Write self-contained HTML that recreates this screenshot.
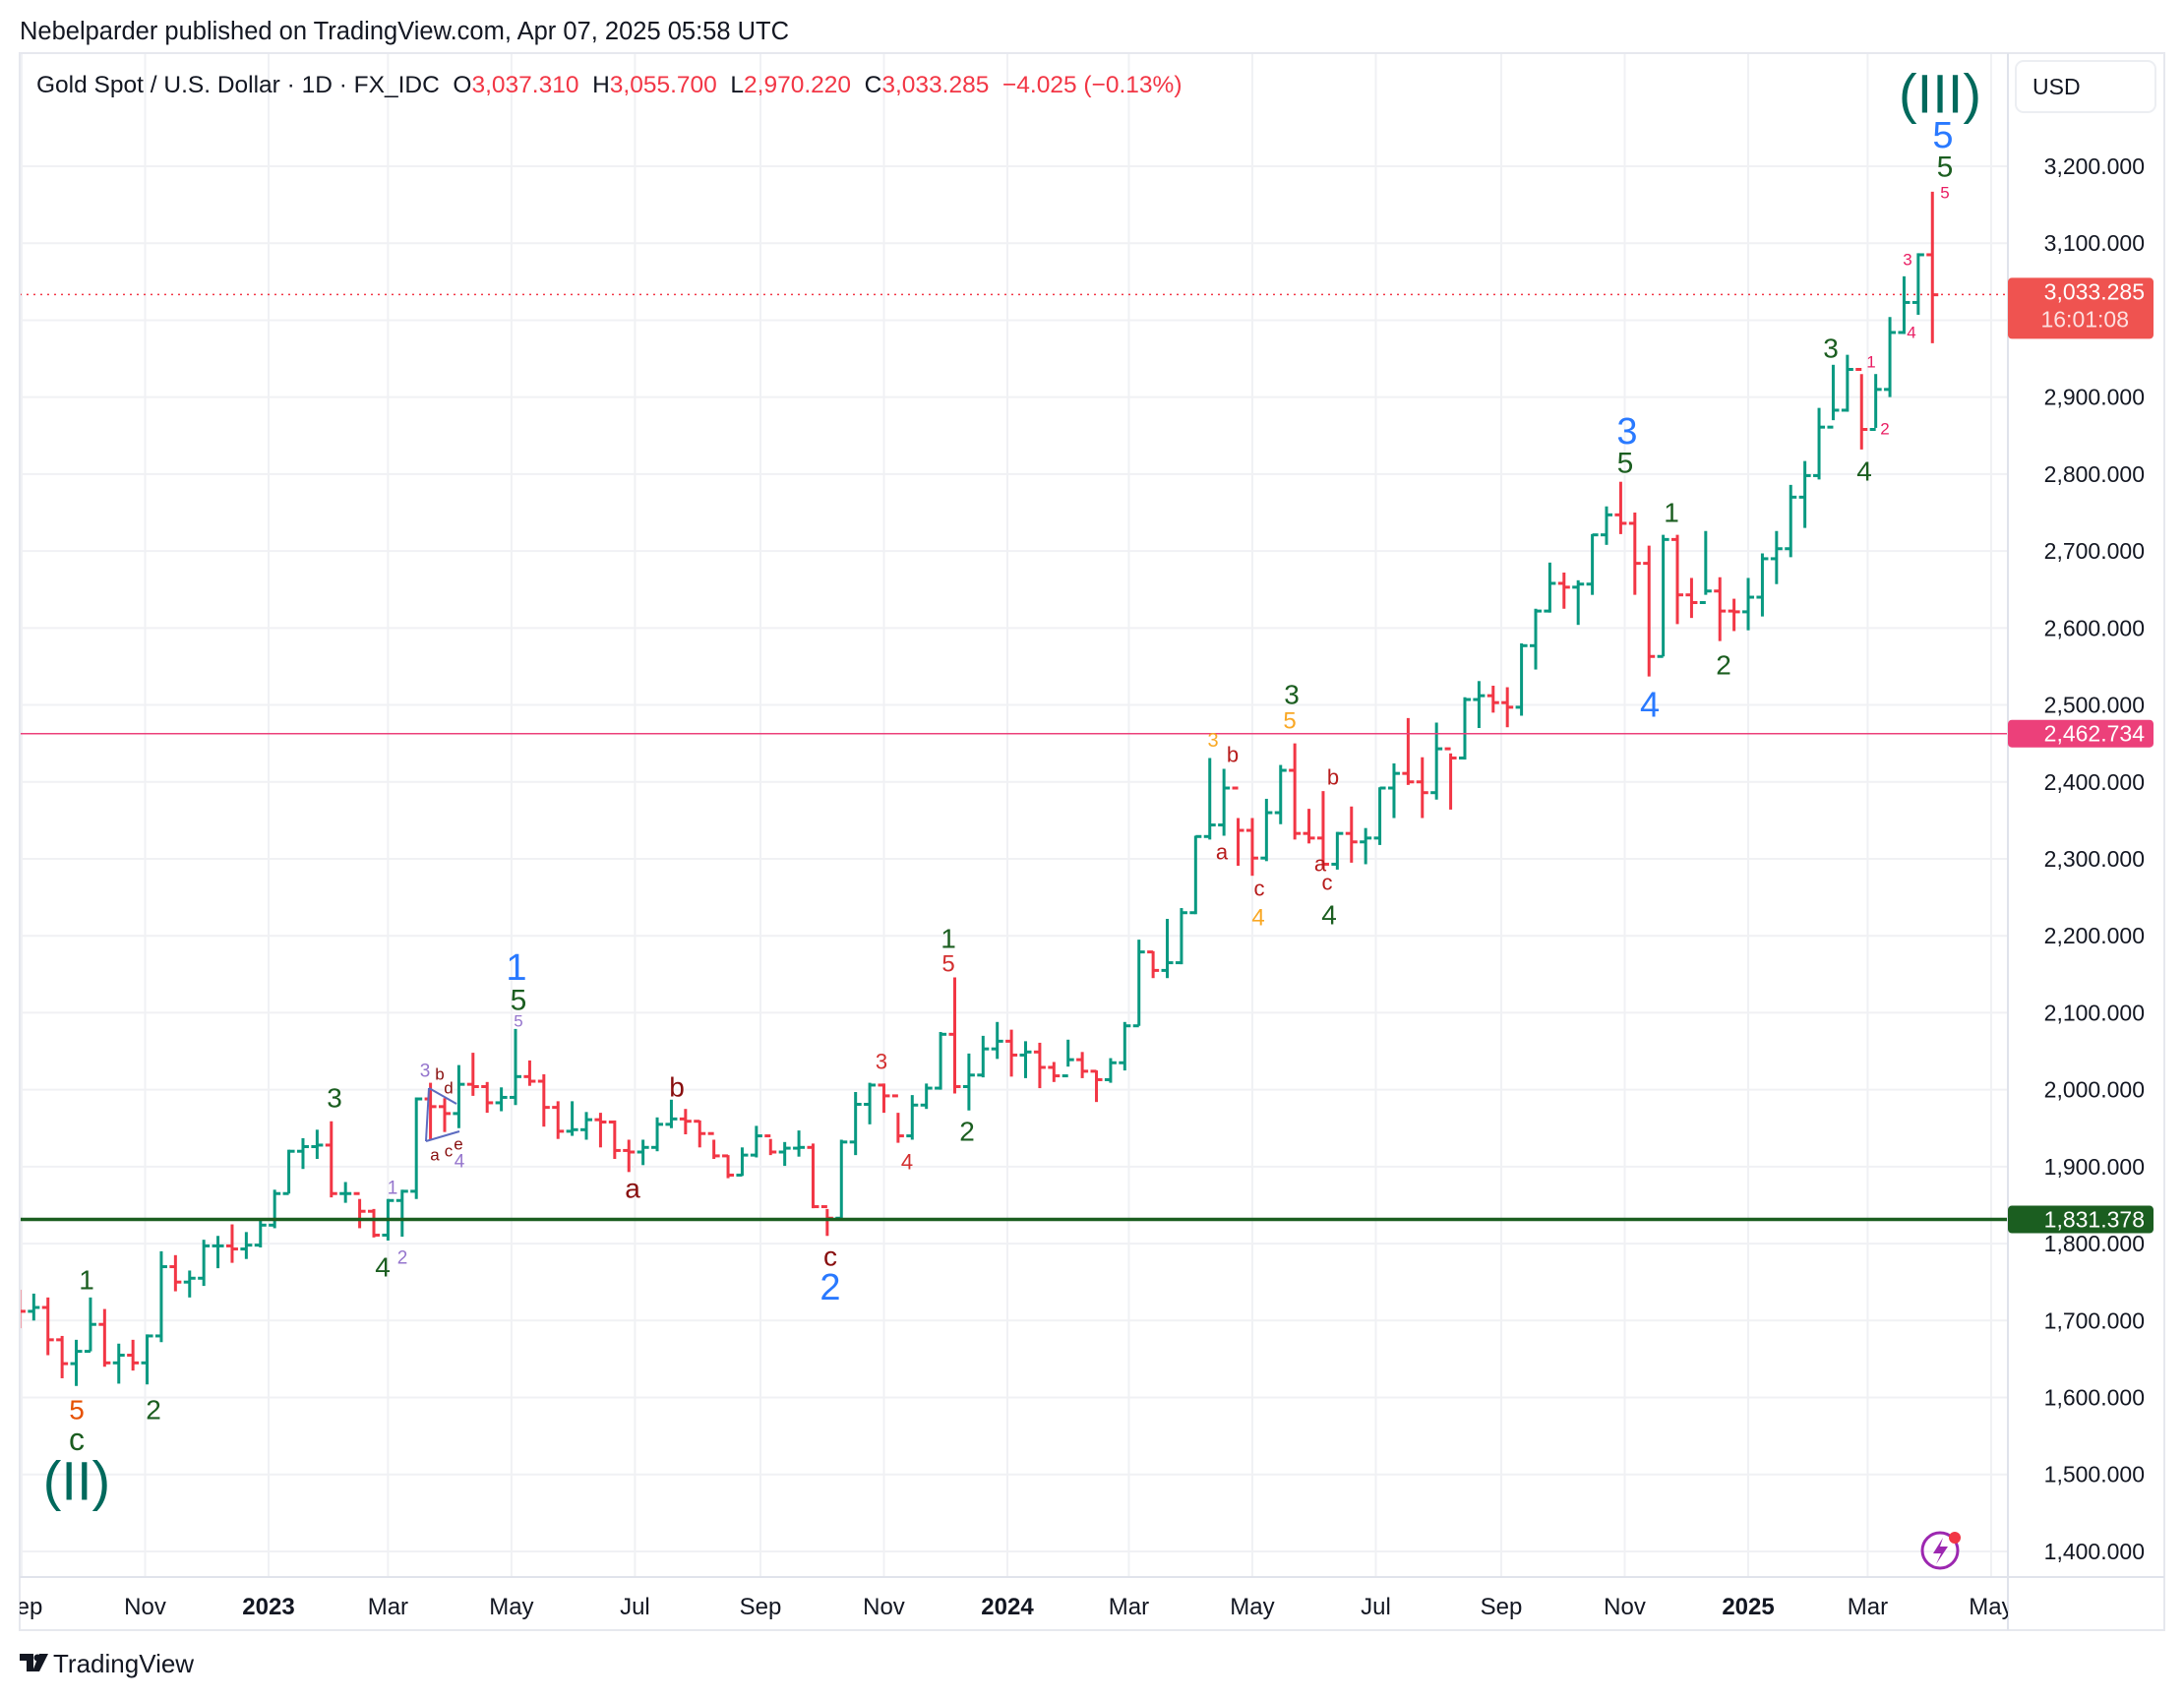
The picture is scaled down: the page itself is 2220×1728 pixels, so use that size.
<!DOCTYPE html>
<html><head><meta charset="utf-8">
<style>
html,body{margin:0;padding:0;background:#fff;width:2220px;height:1728px;overflow:hidden}
svg{display:block;font-family:"Liberation Sans",sans-serif}
</style></head>
<body>
<svg id="chart" width="2220" height="1728" viewBox="0 0 2220 1728" xmlns="http://www.w3.org/2000/svg">
  <defs><clipPath id="plotClip"><rect x="20" y="54" width="2021" height="1549"/></clipPath>
  <clipPath id="timeClip"><rect x="20" y="1603" width="2021" height="54"/></clipPath></defs>
  <text x="20" y="40" font-size="25.5" fill="#131722">Nebelparder published on TradingView.com, Apr 07, 2025 05:58 UTC</text>
  <g id="grid"></g>
  <g id="bars" clip-path="url(#plotClip)"></g>
  <g id="hlines"></g>
  <g id="ann"></g>
  <rect x="20" y="54" width="2180" height="1603" fill="none" stroke="#e6e8ee" stroke-width="2"/>
  <line x1="2041" y1="54" x2="2041" y2="1657" stroke="#e0e3eb" stroke-width="2"/>
  <line x1="20" y1="1603" x2="2200" y2="1603" stroke="#e0e3eb" stroke-width="2"/>
  <g id="yaxis"></g>
  <g id="xaxis" clip-path="url(#timeClip)"></g>
  <text x="37" y="94" font-size="24.5" fill="#131722" xml:space="preserve">Gold Spot / U.S. Dollar · 1D · FX_IDC  O<tspan fill="#f23645">3,037.310</tspan>  H<tspan fill="#f23645">3,055.700</tspan>  L<tspan fill="#f23645">2,970.220</tspan>  C<tspan fill="#f23645">3,033.285</tspan>  <tspan fill="#f23645">−4.025 (−0.13%)</tspan></text>
  <rect x="2049" y="62" width="142" height="52" rx="8" fill="#fff" stroke="#eceef2" stroke-width="2"/>
  <text x="2066" y="96" font-size="23" fill="#131722">USD</text>
  <g>
    <circle cx="1972" cy="1576" r="18" fill="none" stroke="#9c27b0" stroke-width="3"/>
    <path d="M1975 1563 L1965 1579 L1973 1579 L1968 1590 L1980 1572 L1972 1572 Z" fill="#9c27b0"/>
    <circle cx="1987" cy="1563" r="6" fill="#f23645"/>
  </g>
  <g>
    <path d="M20 1681 h14 v18 h-7 v-11 h-7 z M40 1681 h9 l-9 18 h-7 z" fill="#131722"/>
    <circle cx="38" cy="1685" r="3.5" fill="#131722"/>
    <text x="54" y="1700" font-size="26" fill="#131722">TradingView</text>
  </g>
</svg>
<script>
const weekCloses=[1712,1717,1675,1644,1660,1695,1645,1655,1645,1680,1770,1750,1755,1797,1797,1793,1798,1824,
1865,1920,1926,1928,1865,1865,1842,1811,1856,1868,1988,1978,1969,2007,2004,1983,1990,2017,2011,1977,1946,1948,1961,1958,1921,1919,1925,1955,1962,1959,1943,1914,1889,1915,1940,1919,1924,1925,1848,1833,1932,1981,2006,1992,1940,1980,2002,2072,2004,2019,2053,2063,
2045,2049,2029,2018,2039,2024,2013,2035,2083,2179,2155,2165,2230,2329,2344,2392,2337,2301,2360,2415,2333,2327,2293,2333,2322,2327,2392,2411,2400,2386,2443,2431,2507,2512,2503,2497,2577,2622,2658,2653,2657,2721,2747,2736,2684,2563,2715,2643,2633,2648,2622,2621,
2640,2690,2703,2770,2798,2861,2883,2936,2858,2910,2984,3023,3085,3033];
const weekHighs=[1740,1735,1730,1680,1675,1730,1715,1670,1675,1682,1790,1785,1765,1805,1810,1825,1815,1833,
1870,1922,1937,1948,1959,1880,1858,1845,1858,1870,1990,2009,1989,2032,2048,2010,2003,2079,2038,2020,1985,1985,1971,1970,1960,1935,1935,1964,1987,1975,1960,1935,1915,1925,1953,1936,1932,1947,1930,1845,1935,1997,2009,2008,1970,1993,2008,2075,2146,2047,2070,2088,
2078,2063,2061,2036,2065,2049,2025,2041,2088,2195,2180,2222,2236,2330,2431,2417,2353,2353,2378,2422,2450,2365,2388,2335,2368,2340,2393,2424,2483,2432,2477,2437,2510,2531,2525,2523,2580,2625,2685,2672,2662,2722,2758,2790,2750,2707,2721,2721,2665,2726,2666,2638,
2665,2697,2726,2786,2817,2886,2942,2955,2930,2930,3004,3057,3087,3167];
const weekLows=[1690,1700,1655,1625,1615,1660,1640,1618,1635,1617,1672,1738,1730,1745,1768,1775,1780,1795,
1820,1865,1897,1910,1860,1853,1820,1808,1804,1809,1858,1935,1945,1950,1992,1970,1972,1980,2005,1952,1936,1940,1935,1925,1910,1893,1902,1920,1950,1942,1925,1910,1885,1888,1912,1915,1901,1913,1846,1810,1830,1915,1955,1970,1931,1935,1975,2000,1995,1973,2016,2040,
2017,2015,2002,2010,2030,2015,1984,2009,2025,2083,2145,2145,2163,2228,2325,2330,2291,2278,2297,2345,2325,2320,2287,2286,2295,2293,2318,2353,2396,2353,2377,2364,2429,2470,2490,2471,2486,2546,2620,2625,2604,2643,2708,2722,2643,2537,2563,2605,2613,2643,2583,2596,
2597,2615,2657,2692,2730,2793,2870,2881,2832,2860,2900,2982,3007,2970];
const firstOpen=1725;
const priceTicks=[3200,3100,2900,2800,2700,2600,2500,2400,2300,2200,2100,2000,1900,1800,1700,1600,1500,1400];
const gridPrices=[3200,3100,3000,2900,2800,2700,2600,2500,2400,2300,2200,2100,2000,1900,1800,1700,1600,1500,1400];
const monthLabels=["Sep","Nov","2023","Mar","May","Jul","Sep","Nov","2024","Mar","May","Jul","Sep","Nov","2025","Mar","May"];
const monthDates=["2022-09-01","2022-11-01","2023-01-01","2023-03-01","2023-05-01","2023-07-01","2023-09-01","2023-11-01","2024-01-01","2024-03-01","2024-05-01","2024-07-01","2024-09-01","2024-11-01","2025-01-01","2025-03-01","2025-05-01"];
const refLines=[3033.285,2462.734,1831.378];

const NS="http://www.w3.org/2000/svg";
const DAY=86400000, REF=Date.UTC(2023,0,1), START=Date.UTC(2022,8,2);
function xOfTime(t){return 273+(t-REF)/DAY*2.0575;}
function yOf(p){return 169+(3200-p)*0.7822;}
function mk(tag,attrs,parent){const e=document.createElementNS(NS,tag);for(const k in attrs)e.setAttribute(k,attrs[k]);parent.appendChild(e);return e;}
const grid=document.getElementById('grid'),bars=document.getElementById('bars'),yax=document.getElementById('yaxis'),xax=document.getElementById('xaxis'),hl=document.getElementById('hlines'),ann=document.getElementById('ann');

gridPrices.forEach(p=>{const l=mk('line',{x1:20,x2:2041,y1:yOf(p),y2:yOf(p),stroke:'#f0f1f4','stroke-width':2},grid);

});
monthDates.forEach((d,i)=>{const x=xOfTime(Date.parse(d));
const l=mk('line',{x1:x,x2:x,y1:54,y2:1603,stroke:'#f0f1f4','stroke-width':2},grid);


const yr=/^\d{4}$/.test(monthLabels[i]);
const t=mk('text',{x:x,y:1641,'text-anchor':'middle','font-size':24,fill:'#131722','font-weight':yr?'bold':'normal'},xax);
t.textContent=monthLabels[i];

});
priceTicks.forEach(p=>{const t=mk('text',{x:2180,y:yOf(p)+8,'text-anchor':'end','font-size':23,fill:'#131722'},yax);
t.textContent=p.toLocaleString('en-US',{minimumFractionDigits:3});

});

let prev=firstOpen;
weekCloses.forEach((c,i)=>{const o=prev;prev=c;const x=xOfTime(START+(i*7-2)*DAY);
const col=c>=o?'#089981':'#f23645';
const g=mk('g',{stroke:col,'stroke-width':3},bars);


mk('line',{x1:x,x2:x,y1:yOf(weekHighs[i]),y2:yOf(weekLows[i])},g);
mk('line',{x1:x-6,x2:x,y1:yOf(o),y2:yOf(o)},g);
mk('line',{x1:x,x2:x+6,y1:yOf(c),y2:yOf(c)},g);});

const lc=['#f23645','#ec407a','#1b5e20'];
refLines.forEach((p,i)=>{const y=yOf(p);
const l=mk('line',{x1:20,x2:2041,y1:y,y2:y,stroke:lc[i],'stroke-width':i==2?3.5:1.5},hl);
if(i==0)l.setAttribute('stroke-dasharray','2 5');


const h=i==0?62:28, top=i==0?y-17:y-14;
const r=mk('rect',{x:2041,y:top,width:148,height:h,rx:4,fill:i==0?'#ef5350':lc[i]},yax);


const t=mk('text',{x:2180,y:top+22,'text-anchor':'end','font-size':23,fill:'#fff'},yax);
t.textContent=p.toLocaleString('en-US',{minimumFractionDigits:3});


if(i==0){const t2=mk('text',{x:2164,y:top+50,'text-anchor':'end','font-size':23,fill:'#fde0e0'},yax);t2.textContent='16:01:08';

}});

const A=[[1972,95,'(III)','#00695c',56],[1975,138,'5','#2979ff',38],[1977,170,'5','#1b5e20',30],[1977,196,'5','#e91e63',17],
[1939,264,'3','#e91e63',17],[1943,338,'4','#e91e63',17],[1902,368,'1','#e91e63',17],[1916,436,'2','#e91e63',17],
[1861,354,'3','#1b5e20',28],[1895,479,'4','#1b5e20',28],[1654,439,'3','#2979ff',38],[1652,471,'5','#1b5e20',30],
[1699,521,'1','#1b5e20',28],[1677,716,'4','#2979ff',36],[1752,676,'2','#1b5e20',28],[1313,706,'3','#1b5e20',28],
[1311,733,'5','#f9a825',24],[1233,753,'3','#f9a825',20],[1253,767,'b','#b71c1c',22],[1242,866,'a','#b71c1c',22],
[1280,903,'c','#b71c1c',22],[1279,933,'4','#f9a825',24],[1355,790,'b','#b71c1c',22],[1342,878,'a','#b71c1c',22],
[1349,897,'c','#b71c1c',22],[1351,930,'4','#1b5e20',28],[964,954,'1','#1b5e20',28],[964,980,'5','#d32f2f',24],
[896,1079,'3','#d32f2f',22],[922,1181,'4','#d32f2f',22],[983,1150,'2','#1b5e20',28],[688,1105,'b','#880e0e',28],
[643,1208,'a','#880e0e',28],[844,1277,'c','#880e0e',28],[844,1309,'2','#2979ff',38],[525,984,'1','#2979ff',38],
[527,1017,'5','#1b5e20',30],[527,1038,'5','#9575cd',17],[432,1089,'3','#9575cd',19],[447,1092,'b','#880e0e',17],
[456,1106,'d','#880e0e',17],[442,1174,'a','#880e0e',17],[456,1170,'c','#880e0e',17],[466,1163,'e','#880e0e',17],
[467,1181,'4','#9575cd',19],[399,1208,'1','#9575cd',19],[409,1279,'2','#9575cd',19],[340,1116,'3','#1b5e20',28],
[389,1288,'4','#1b5e20',28],[88,1301,'1','#1b5e20',28],[156,1433,'2','#1b5e20',28],[78,1433,'5','#e65100',28],
[78,1463,'c','#1b5e20',32],[78,1505,'(II)','#00695c',56]];
A.forEach(a=>{const t=mk('text',{x:a[0],y:a[1],'text-anchor':'middle','dominant-baseline':'central','font-size':a[4],fill:a[3]},ann);
t.textContent=a[2];

});
[[436,1106,464,1122],[433,1160,467,1150],[436,1106,433,1160]].forEach(s=>{const l=mk('line',{x1:s[0],y1:s[1],x2:s[2],y2:s[3],stroke:'#5c6bc0','stroke-width':2},ann);

});
</script>
</body></html>
